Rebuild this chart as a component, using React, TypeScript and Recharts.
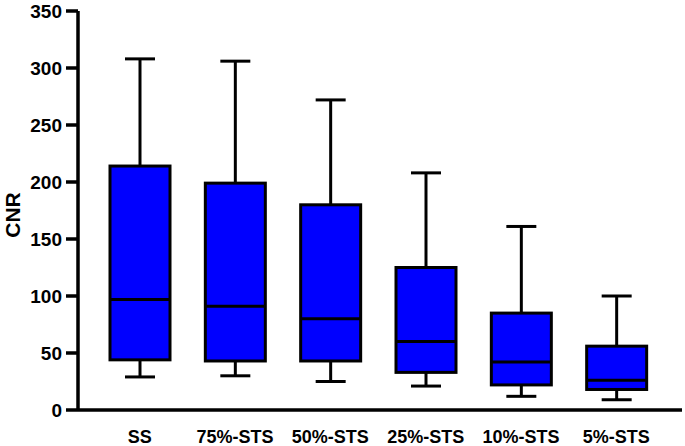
import { ComposedChart, Bar, XAxis, YAxis, Label } from 'recharts';

// box plot values
const categories = ['SS', '75%-STS', '50%-STS', '25%-STS', '10%-STS', '5%-STS'];
const mins = [29, 30, 25, 21, 12, 9];
const q1s = [44, 43, 43, 33, 22, 18];
const medians = [97, 91, 80, 60, 42, 26];
const q3s = [214, 199, 180, 125, 85, 56];
const maxs = [308, 306, 272, 208, 161, 100];
const yTicks = [0, 50, 100, 150, 200, 250, 300, 350];

const data = categories.map((name, i) => ({
  name,
  range: [mins[i], maxs[i]],
  min: mins[i],
  q1: q1s[i],
  median: medians[i],
  q3: q3s[i],
  max: maxs[i],
}));

const FONT = '"Liberation Sans", Arial, Helvetica, sans-serif';

function BoxShape(props: any) {
  const { x, y, width, height, payload } = props;
  const top = Math.min(y, y + height);
  const h = Math.abs(height);
  const { min, q1, median, q3, max } = payload;
  // map a value into pixels between the min (bottom) and max (top) of the range bar
  const py = (v: number) => top + (h * (max - v)) / (max - min);
  const cx = x + width / 2;
  const capHalf = width / 4;
  return (
    <g>
      <line x1={cx} x2={cx} y1={py(max)} y2={py(q3)} stroke="#000" strokeWidth={3} />
      <line x1={cx} x2={cx} y1={py(q1)} y2={py(min)} stroke="#000" strokeWidth={3} />
      <line x1={cx - capHalf} x2={cx + capHalf} y1={py(max)} y2={py(max)} stroke="#000" strokeWidth={3} />
      <line x1={cx - capHalf} x2={cx + capHalf} y1={py(min)} y2={py(min)} stroke="#000" strokeWidth={3} />
      <rect x={x} y={py(q3)} width={width} height={py(q1) - py(q3)} fill="#0000ff" stroke="#000" strokeWidth={3} />
      <line x1={x} x2={x + width} y1={py(median)} y2={py(median)} stroke="#000" strokeWidth={3} />
    </g>
  );
}

function XTick(props: any) {
  const { x, y, payload } = props;
  return (
    <text x={x} y={y} dy="0.71em" textAnchor="middle" fill="#000" fontSize={18} fontWeight={700} fontFamily={FONT}>
      {payload.value}
    </text>
  );
}

function YTick(props: any) {
  const { x, y, payload } = props;
  return (
    <text x={x} y={y} dy="0.36em" textAnchor="end" fill="#000" fontSize={19} fontWeight={700} fontFamily={FONT}>
      {payload.value}
    </text>
  );
}

export default function App() {
  return (
    <div style={{ position: 'absolute', left: 0, top: 0, background: '#fff' }}>
      <ComposedChart
        width={685}
        height={446}
        data={data}
        margin={{ top: 11, right: 3, bottom: 0, left: 0 }}
      >
        <XAxis
          dataKey="name"
          axisLine={{ stroke: '#000', strokeWidth: 3.5 }}
          tickLine={false}
          tickSize={0}
          tickMargin={20}
          height={36}
          padding={{ left: 14, right: 18 }}
          interval={0}
          tick={<XTick />}
        />
        <YAxis
          domain={[0, 350]}
          ticks={yTicks}
          width={78}
          stroke="#000"
          strokeWidth={3.5}
          tickSize={12}
          tickMargin={4}
          tick={<YTick />}
        >
          <Label
            content={() => (
              <text
                x={12}
                y={215}
                transform="rotate(-90 12 215)"
                textAnchor="middle"
                dominantBaseline="central"
                fill="#000"
                fontSize={21}
                fontWeight={700}
                fontFamily={FONT}
              >
                CNR
              </text>
            )}
          />
        </YAxis>
        <Bar dataKey="range" barSize={60} shape={<BoxShape />} isAnimationActive={false} />
      </ComposedChart>
    </div>
  );
}
